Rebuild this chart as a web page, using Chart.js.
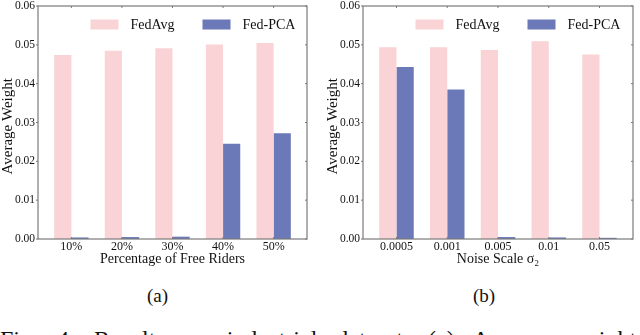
<!DOCTYPE html>
<html><head><meta charset="utf-8">
<script src="https://cdn.jsdelivr.net/npm/chart.js@4.4.0/dist/chart.umd.min.js"></script>
<style>
html,body{margin:0;padding:0;background:#fff;width:640px;height:335px;overflow:hidden;position:relative;font-family:"Liberation Serif",serif;}
canvas{position:absolute;}
.cap{position:absolute;font-size:19px;line-height:19px;color:#111;white-space:nowrap;}
#fig{position:absolute;left:0;top:327px;font-size:24px;line-height:24px;color:#111;white-space:nowrap;word-spacing:13px;}
</style></head>
<body>
<canvas id="ca" width="320" height="289" style="left:0;top:-10px"></canvas>
<canvas id="cb" width="315" height="289" style="left:325px;top:-10px"></canvas>
<div class="cap" style="left:147px;top:286px">(a)</div>
<div class="cap" style="left:473px;top:286px">(b)</div>
<div id="fig">Fig. 4. Results on industrial dataset. (a) Average weight</div>
<script>
const seriesNames = ['FedAvg', 'Fed-PCA'];
const ridersLabels = ['10%', '20%', '30%', '40%', '50%'];
const ridersFedAvg = [0.0474, 0.0485, 0.0491, 0.0501, 0.0505];
const ridersFedPCA = [0.0004, 0.0005, 0.0006, 0.0245, 0.0272];
const noiseLabels = ['0.0005', '0.001', '0.005', '0.01', '0.05'];
const noiseFedAvg = [0.0494, 0.0494, 0.0487, 0.0509, 0.0475];
const noiseFedPCA = [0.0443, 0.0385, 0.0005, 0.0004, 0.0003];
const yTicks = [0, 0.01, 0.02, 0.03, 0.04, 0.05, 0.06];

const FONT = '"Liberation Serif", serif';
const PINK = '#f9d3d5';
const BLUE = '#6b79b8';
const TXT = '#111';

Chart.defaults.font.family = FONT;

const framePlugin = {
  id: 'frame',
  afterDatasetsDraw(chart) {
    const ctx = chart.ctx;
    const {left, top, right, bottom} = chart.chartArea;
    const x = chart.scales.x, y = chart.scales.y;
    ctx.save();
    ctx.strokeStyle = '#7a7a7a';
    ctx.lineWidth = 1.2;
    ctx.strokeRect(left, top, right - left, bottom - top);
    ctx.lineWidth = 1;
    ctx.beginPath();
    y.ticks.forEach(t => {
      const py = y.getPixelForValue(t.value);
      ctx.moveTo(left - 2, py); ctx.lineTo(left, py);
      ctx.moveTo(right, py); ctx.lineTo(right - 2, py);
    });
    x.ticks.forEach(t => {
      const px = x.getPixelForValue(t.value);
      ctx.moveTo(px, top); ctx.lineTo(px, top + 2);
      ctx.moveTo(px, bottom); ctx.lineTo(px, bottom - 2);
    });
    ctx.stroke();
    const offs = [[52.5, 92.5], [164.5, 204.5]];
    ctx.font = '14px ' + FONT;
    ctx.textBaseline = 'middle';
    ctx.textAlign = 'left';
    chart.data.datasets.forEach((ds, i) => {
      ctx.fillStyle = ds.backgroundColor;
      ctx.fillRect(left + offs[i][0], top + 13.5, 28, 10);
      ctx.fillStyle = TXT;
      ctx.fillText(ds.label, left + offs[i][1], top + 19);
    });
    ctx.restore();
  }
};

function makeChart(id, labels, a, b, xTitle, padRight) {
  const toPts = arr => arr.map((v, i) => ({x: i, y: v}));
  return new Chart(document.getElementById(id), {
    type: 'bar',
    data: {
      datasets: [
        {label: seriesNames[0], data: toPts(a), backgroundColor: PINK, borderWidth: 0, categoryPercentage: 0.68, barPercentage: 1},
        {label: seriesNames[1], data: toPts(b), backgroundColor: BLUE, borderWidth: 0, categoryPercentage: 0.68, barPercentage: 1}
      ]
    },
    options: {
      responsive: false,
      animation: false,
      devicePixelRatio: 1,
      layout: {padding: {top: 16, right: padRight, bottom: 0, left: 0}},
      plugins: {legend: {display: false}, tooltip: {enabled: false}},
      scales: {
        x: {
          type: 'linear', min: -0.66, max: 4.66, offset: false,
          grid: {display: false, drawTicks: false}, border: {display: false},
          afterBuildTicks: s => { s.ticks = labels.map((_, i) => ({value: i})); },
          afterFit: s => { s.height = 40; },
          ticks: {callback: v => labels[v], padding: 1, font: {family: FONT, size: 12}, color: TXT, maxRotation: 0, autoSkip: false},
          title: {display: true, text: xTitle, font: {family: FONT, size: 14}, color: TXT, padding: {top: 0, bottom: 11}}
        },
        y: {
          min: 0, max: 0.06,
          grid: {display: false, drawTicks: false}, border: {display: false},
          afterBuildTicks: s => { s.ticks = yTicks.map(v => ({value: v})); },
          afterFit: s => { s.width = 38; },
          ticks: {callback: v => v.toFixed(2), padding: 3, font: {family: FONT, size: 11.5}, color: TXT},
          title: {display: true, text: 'Average Weight  ', font: {family: FONT, size: 15, lineHeight: 1}, color: TXT, padding: {top: 0.5, bottom: 0}}
        }
      }
    },
    plugins: [framePlugin]
  });
}

function build() {
  makeChart('ca', ridersLabels, ridersFedAvg, ridersFedPCA, 'Percentage of Free Riders', 13);
  makeChart('cb', noiseLabels, noiseFedAvg, noiseFedPCA, 'Noise Scale σ₂', 7);
}
Promise.all([
  document.fonts.load('14px "Liberation Serif"'),
  document.fonts.load('italic 14px "Liberation Serif"')
]).then(build, build);
</script>
</body></html>
